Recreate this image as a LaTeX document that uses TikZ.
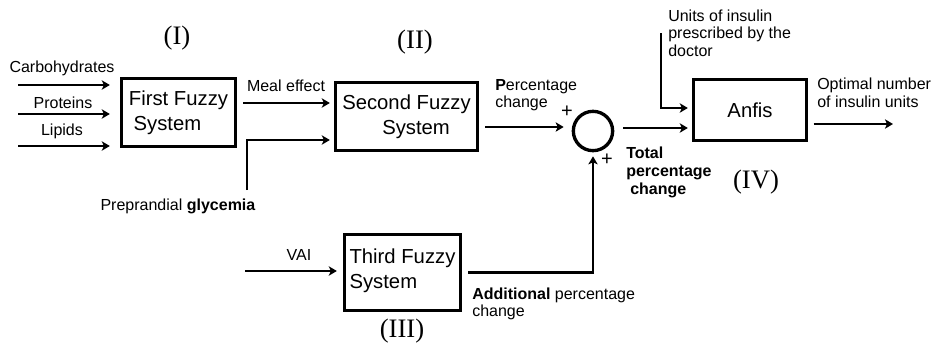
\documentclass[tikz,border=0pt]{standalone}
\usepackage{fontspec}
\setmainfont{Liberation Sans}
\newfontfamily\numfont{Liberation Serif}
\usetikzlibrary{arrows.meta,calc}
\begin{document}
\begin{tikzpicture}[x=0.75pt,y=-0.75pt,
  fbox/.style={draw,line width=2.5pt,inner sep=0pt,align=left,
    font=\fontsize{15.2}{18.5}\selectfont},
  sumnode/.style={draw,circle,line width=2.5pt,minimum size=29.5pt,inner sep=0pt},
  lbl/.style={inner sep=0pt,align=left,font=\fontsize{12}{13.2}\selectfont},
  sign/.style={inner sep=0pt,font=\fontsize{15}{15}\selectfont},
  stage/.style={inner sep=0pt,font=\numfont\fontsize{20}{24}\selectfont},
  arr/.style={line width=1.7pt,-{Stealth[length=6pt,width=7pt,inset=1.5pt]}},
  wire/.style={line width=1.7pt}]
\fill[white] (0,0) rectangle (931,347);
\useasboundingbox (0,0) rectangle (931,347);

% blocks
\node[fbox,minimum width=85.5pt,minimum height=51pt] (first) at (178.5,112.5)
  {First Fuzzy\\\hspace*{3.5pt}System};
\node[fbox,minimum width=106.5pt,minimum height=51pt] (second) at (406.5,116.5)
  {Second Fuzzy\\\hspace*{30pt}System};
\node[fbox,minimum width=87pt,minimum height=57pt,text depth=6pt] (third) at (402.5,272.5)
  {Third Fuzzy\\System};
\node[fbox,minimum width=84.75pt,minimum height=45.75pt] (anfis) at (750,110) {Anfis};
\node[sumnode] (sum) at (593,131) {};

% stage numbers
\node[stage] (sI) at (177,38) {(I)};
\node[stage] (sII) at (415,42) {(II)};
\node[stage] (sIII) at (402,331) {(III)};
\node[stage] (sIV) at (756,182) {(IV)};

% signal labels
\node[lbl] (lcarb) at (62,68) {Carbohydrates};
\node[lbl] (lprot) at (63,103) {Proteins};
\node[lbl] (llip) at (62,131) {Lipids};
\node[lbl] (lmeal) at (286,86) {Meal effect};
\node[lbl] (lgly) at (178,206) {Preprandial \textbf{glycemia}};
\node[lbl,anchor=west] (lperc) at (495,95) {\textbf{P}ercentage\\change};
\node[sign] (plusa) at (567,112) {+};
\node[sign] (plusb) at (607,160) {+};
\node[lbl,anchor=west,font=\bfseries\fontsize{12}{13.5}\selectfont] (ltot) at (626,172)
  {Total\\percentage\\\hspace*{3pt}change};
\node[lbl,anchor=west] (lunits) at (668,33) {Units of insulin\\prescribed by the\\doctor};
\node[lbl,anchor=west] (lopt) at (817,93) {Optimal number\\of insulin units};
\node[lbl] (lvai) at (299,255) {VAI};
\node[lbl,anchor=west] (ladd) at (472,304) {\textbf{Additional} percentage\\change};

% free ends and bends
\coordinate (in1) at (18,85);
\coordinate (in2) at (18,114);
\coordinate (in3) at (18,146);
\coordinate (gly) at (247,190);
\coordinate (vai) at (245,271);
\coordinate (dose) at (661,33);
\coordinate (out) at (893,124);
\coordinate (meal) at ($(first.east)+(0,-9.5)$);
\coordinate (pc) at ($(second.east)+(0,10.5)$);
\coordinate (tot) at ($(sum.east)+(0,-3)$);

% connectors
\draw[arr,shorten >=7.5pt] (in1) -- (in1 -| first.west);
\draw[arr,shorten >=7.5pt] (in2) -- (in2 -| first.west);
\draw[arr,shorten >=7.5pt] (in3) -- (in3 -| first.west);
\draw[arr,shorten <=4.5pt,shorten >=3pt] (meal) -- (meal -| second.west);
\draw[arr,shorten >=3pt] (gly) |- ($(second.west)+(0,23.5)$);
\draw[arr,shorten <=4.5pt,shorten >=6pt] (pc) -- (pc -| sum.west);
\draw[arr,shorten <=4.5pt,shorten >=3pt] (third.east) -| (sum.south);
\draw[arr,shorten >=4.5pt] (vai) -- (vai -| third.west);
\draw[arr,shorten <=6.5pt,shorten >=3pt] (tot) -- (tot -| anfis.west);
\draw[arr,shorten >=3pt] (dose) |- ($(anfis.west)+(0,-2)$);
\draw[arr,shorten <=4pt] (anfis.east |- out) -- (out);
\end{tikzpicture}
\end{document}
